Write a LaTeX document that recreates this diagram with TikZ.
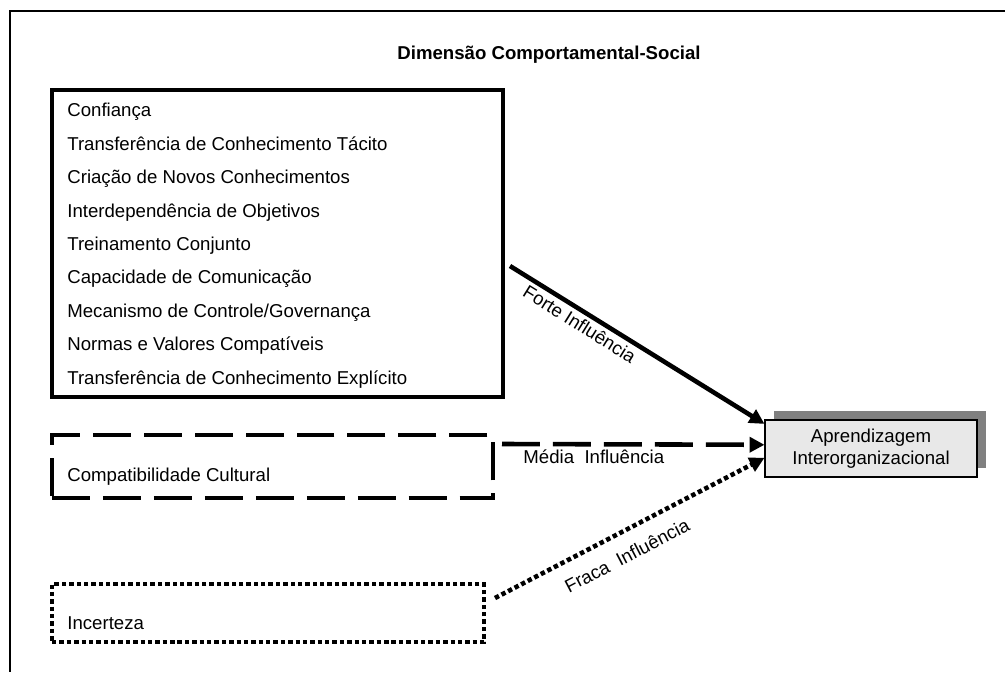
\documentclass[tikz,border=0pt]{standalone}
\usepackage{fontspec}
\setmainfont{Liberation Sans}
\usepackage{tikz}
\usetikzlibrary{arrows.meta, positioning, shadows}

\begin{document}
\begin{tikzpicture}[
  x=0.02cm, y=-0.02cm,
  font=\fontsize{10.6}{12.7}\selectfont,
  >={Triangle[length=8.5pt, width=8.5pt]},
  frame/.style={line width=1.7pt},
  grp/.style={draw, line width=2.7pt, inner sep=0pt},
  dashbox/.style={grp, dash pattern=on 21.6pt off 7.4pt},
  dotbox/.style={grp, dash pattern=on 2.5pt off 1.7pt},
  item/.style={anchor=west, inner sep=0pt, text height=7.6pt, text depth=0pt},
  goalbox/.style={draw, line width=0.6pt, fill=black!9, align=center,
                  minimum width=4.24cm, minimum height=1.14cm,
                  drop shadow={shadow xshift=5.1pt, shadow yshift=5.1pt,
                               opacity=1, fill=black!50}},
  link/.style={->, line width=2.6pt},
  lbl/.style={inner sep=2pt},
]
\useasboundingbox (0,0) rectangle (1005,675);
% outer frame
\draw[frame] (10,672) -- (10,11) -- (1020,11);
% title
\node[font=\fontsize{10.6}{12.7}\selectfont\bfseries] (title) at (549,55)
      {Dimensão Comportamental-Social};
% groups of factors
\node[grp, minimum width=9.02cm, minimum height=6.14cm] (strong) at (277.5,243.5) {};
\node[dashbox, minimum width=8.82cm, minimum height=1.26cm] (medium) at (272.5,466.5) {};
\node[dotbox, minimum width=8.64cm, minimum height=1.16cm] (weak) at (268,613) {};
% factors
\node[item] (f1) at (67,110) {Confiança};
\node[item] (f2) at (67,144) {Transferência de Conhecimento Tácito};
\node[item] (f3) at (67,177) {Criação de Novos Conhecimentos};
\node[item] (f4) at (67,211) {Interdependência de Objetivos};
\node[item] (f5) at (67,244) {Treinamento Conjunto};
\node[item] (f6) at (67,277) {Capacidade de Comunicação};
\node[item] (f7) at (67,311) {Mecanismo de Controle/Governança};
\node[item] (f8) at (67,344) {Normas e Valores Compatíveis};
\node[item] (f9) at (67,378) {Transferência de Conhecimento Explícito};
\node[item] (f10) at (67,475) {Compatibilidade Cultural};
\node[item] (f11) at (67,623) {Incerteza};
% result
\node[goalbox] (goal) at (871,448.5) {Aprendizagem\\Interorganizacional};
% influence arrows
\coordinate (fs) at (510,266);
\coordinate (ms) at (502,444);
\coordinate (ws) at (495,598);
\draw[link] (fs) -- (goal.167)
      node[lbl, sloped, below, pos=0.3] {Forte Influência};
\draw[link, dash pattern=on 21.6pt off 7.4pt] (ms) -- (goal.178)
      node[lbl, below, pos=0.35] {Média\ \ Influência};
\draw[link, dash pattern=on 2.5pt off 1.7pt] (ws) -- (goal.185)
      node[lbl, sloped, below, pos=0.45, yshift=-6pt] {Fraca\ \ Influência};
\end{tikzpicture}
\end{document}
